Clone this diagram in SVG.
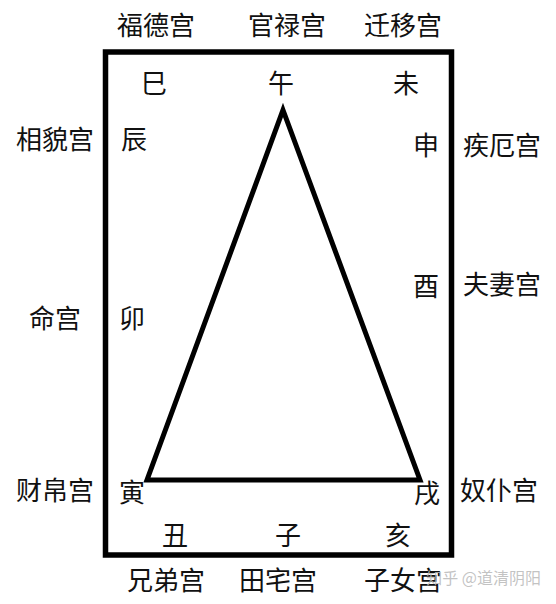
<svg xmlns="http://www.w3.org/2000/svg" width="556" height="604" viewBox="0 0 556 604">
<style>
text{font-family:"Noto Sans CJK SC","Noto Sans CJK JP",sans-serif;font-size:26px;fill:#111;text-anchor:middle}
.wm{font-size:16px;fill:#b8b8b8;fill-opacity:0.85;text-anchor:end}
.frame{fill:none;stroke:#000;stroke-width:5.5}
.tri{fill:none;stroke:#000;stroke-width:5;stroke-linejoin:miter}
</style>
<rect width="556" height="604" fill="#fff"/>
<g id="frame"><rect class="frame" x="105.5" y="52" width="346" height="503"/></g>
<g id="connectors"><polygon class="tri" points="283,110 420,480 147,480"/></g>
<g id="outer-labels">
<text id="fude" x="156" y="35">福德宫</text>
<text id="guanlu" x="287" y="35">官禄宫</text>
<text id="qianyi" x="403" y="35">迁移宫</text>
<text id="xiangmao" x="55" y="149">相貌宫</text>
<text id="jie" x="502" y="155">疾厄宫</text>
<text id="fuqi" x="502" y="294">夫妻宫</text>
<text id="ming" x="55" y="328">命宫</text>
<text id="caibo" x="55" y="500">财帛宫</text>
<text id="nupu" x="499" y="500">奴仆宫</text>
<text id="xiongdi" x="166" y="590">兄弟宫</text>
<text id="tianzhai" x="278" y="590">田宅宫</text>
<text id="zinv" x="403" y="590">子女宫</text>
</g>
<g id="branches">
<text id="si" x="154" y="93">巳</text>
<text id="wu" x="281" y="93">午</text>
<text id="wei" x="406" y="93">未</text>
<text id="chen" x="134" y="149">辰</text>
<text id="shen" x="426" y="155">申</text>
<text id="you" x="426" y="296">酉</text>
<text id="mao" x="132" y="328">卯</text>
<text id="yin" x="132" y="502">寅</text>
<text id="xu" x="427" y="503">戌</text>
<text id="chou" x="175" y="545">丑</text>
<text id="zi" x="288" y="545">子</text>
<text id="hai" x="398" y="545">亥</text>
</g>
<text class="wm" x="541" y="584">知乎 @道清阴阳</text>
</svg>
